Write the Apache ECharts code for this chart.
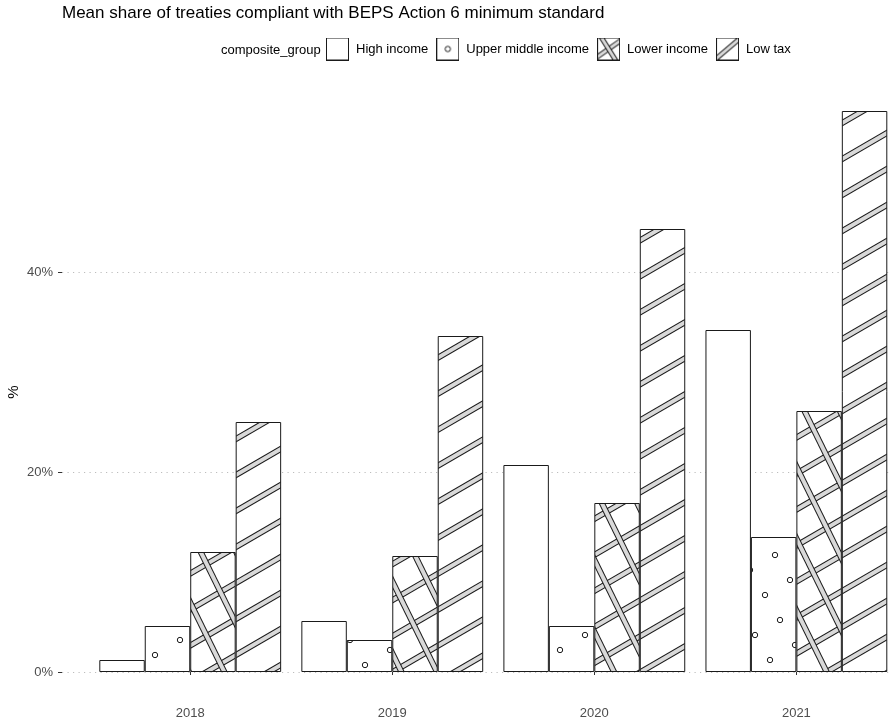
<!DOCTYPE html>
<html>
<head>
<meta charset="utf-8">
<script src="https://cdn.jsdelivr.net/npm/echarts@6/dist/echarts.min.js"></script>
<style>
html,body{margin:0;padding:0;background:#fff;}
#chart{width:890px;height:721px;}
</style>
</head>
<body>
<div id="chart"></div>
<script>
const years = ['2018', '2019', '2020', '2021'];
const groups = ['High income', 'Upper middle income', 'Lower income', 'Low tax'];
const highIncome = [1.2, 5.1, 20.7, 34.2];
const upperMiddle = [4.6, 3.2, 4.6, 13.5];
const lowerIncome = [12.0, 11.6, 16.9, 26.1];
const lowTax = [25.0, 33.6, 44.3, 56.1];
const yTicks = [0, 20, 40];

const FONT = 'Liberation Sans, Arial, Helvetica, sans-serif';
const INK = '#1a1a1a';
const STRIPE = '#d9d9d9';

function makeCanvas(w, h) {
  const c = document.createElement('canvas');
  c.width = w; c.height = h;
  const ctx = c.getContext('2d');
  ctx.fillStyle = '#ffffff';
  ctx.fillRect(0, 0, w, h);
  return [c, ctx];
}
// periodic family of bands y = slope * x + k * period
function bandFamily(ctx, W, H, slope, period, pass) {
  const span = Math.abs(slope) * W;
  const kMin = Math.floor((-span - period * 2) / period);
  const kMax = Math.ceil((H + span + period * 2) / period);
  ctx.lineCap = 'butt';
  ctx.strokeStyle = pass === 'ink' ? INK : STRIPE;
  ctx.lineWidth = pass === 'ink' ? 6 : 4;
  for (let k = kMin; k <= kMax; k++) {
    const c = k * period;
    ctx.beginPath();
    ctx.moveTo(-20, c + slope * -20);
    ctx.lineTo(W + 20, c + slope * (W + 20));
    ctx.stroke();
  }
}
function band(ctx, W, H, slope, period) {
  bandFamily(ctx, W, H, slope, period, 'ink');
  bandFamily(ctx, W, H, slope, period, 'fill');
}
function dot(ctx, x, y) {
  ctx.beginPath();
  ctx.arc(x, y, 2.7, 0, Math.PI * 2);
  ctx.fillStyle = '#ffffff';
  ctx.fill();
  ctx.lineWidth = 1;
  ctx.strokeStyle = INK;
  ctx.stroke();
}

// fills for the bars
const stripeTile = (() => {
  const [c, ctx] = makeCanvas(248, 144);
  band(ctx, 248, 144, -144 / 248, 36);
  return c;
})();
const crossTile = (() => {
  const [c, ctx] = makeCanvas(248, 144);
  band(ctx, 248, 144, -144 / 248, 36);
  band(ctx, 248, 144, 504 / 248, 72);
  return c;
})();
const dotTile = (() => {
  const T = 170;
  const [c, ctx] = makeCanvas(T, T);
  const seen = {};
  for (let i = -12; i <= 12; i++) {
    for (let j = -12; j <= 12; j++) {
      const px = ((i * 15 + j * 25) % T + T) % T;
      const py = ((i * 25 - j * 15) % T + T) % T;
      const key = px + ',' + py;
      if (seen[key]) continue;
      seen[key] = 1;
      for (const ox of [-T, 0, T]) for (const oy of [-T, 0, T]) dot(ctx, px + ox, py + oy);
    }
  }
  return c;
})();

const fills = [
  '#ffffff',
  { image: dotTile, repeat: 'repeat' },
  { image: crossTile, repeat: 'repeat' },
  { image: stripeTile, repeat: 'repeat' }
];

// legend keys
function keyIcon(kind) {
  const K = 23;
  const [c, ctx] = makeCanvas(K, K);
  ctx.save();
  ctx.beginPath(); ctx.rect(0, 0, K, K); ctx.clip();
  const line = (slope, cx, cy) => {
    for (const pass of ['ink', 'fill']) {
      ctx.strokeStyle = pass === 'ink' ? INK : STRIPE;
      ctx.lineWidth = pass === 'ink' ? 5 : 3;
      ctx.beginPath();
      ctx.moveTo(cx - 30, cy - 30 * slope);
      ctx.lineTo(cx + 30, cy + 30 * slope);
      ctx.stroke();
    }
  };
  if (kind === 1) dot(ctx, K / 2, K / 2);
  if (kind === 2) { line(-0.7, K / 2, K / 2); line(1.6, K / 2, K / 2); }
  if (kind === 3) { line(-0.85, K / 2, K / 2); }
  ctx.restore();
  ctx.strokeStyle = INK;
  ctx.lineWidth = 1;
  ctx.strokeRect(0.5, 0.5, K - 1, K - 1);
  return 'image://' + c.toDataURL();
}

const seriesValues = [highIncome, upperMiddle, lowerIncome, lowTax];

const chart = echarts.init(document.getElementById('chart'), null, { renderer: 'canvas' });
const option = {
  animation: false,
  backgroundColor: '#ffffff',
  title: [
    {
      text: 'Mean share of treaties compliant with BEPS Action 6 minimum standard',
      left: 62, top: 5, padding: 0,
      textStyle: { fontFamily: FONT, fontSize: 17, fontWeight: 'normal', color: '#000' }
    },
    {
      text: 'composite_group',
      left: 221, top: 43.5, padding: 0,
      textStyle: { fontFamily: FONT, fontSize: 13, fontWeight: 'normal', color: '#000' }
    }
  ],
  legend: {
    left: 326, top: 37.5,
    padding: 0,
    itemWidth: 23, itemHeight: 23,
    itemGap: 8,
    data: groups.map((g, i) => ({ name: g, icon: keyIcon(i) })),
    textStyle: { fontFamily: FONT, fontSize: 13, color: '#000', padding: [0, 0, 0, 2] }
  },
  grid: { left: 62, top: 84, width: 862.6, height: 616, outerBoundsMode: 'none', containLabel: false },
  xAxis: {
    type: 'value',
    min: 0.3654, max: 4.6346,
    axisLine: { show: false },
    splitLine: { show: false },
    axisTick: { show: true, customValues: [1, 2, 3, 4], length: 3, lineStyle: { color: '#333' } },
    axisLabel: {
      customValues: [1, 2, 3, 4],
      formatter: v => years[Math.round(v) - 1],
      margin: 7,
      fontFamily: FONT, fontSize: 13, color: '#4d4d4d'
    }
  },
  yAxis: {
    type: 'value',
    min: -2.8, max: 58.8,
    name: '%',
    nameLocation: 'middle',
    nameRotate: 90,
    nameGap: 41,
    nameMoveOverlap: false,
    nameTextStyle: { fontFamily: FONT, fontSize: 15, color: '#000' },
    axisLine: { show: false },
    axisTick: { show: true, customValues: yTicks, length: 4, lineStyle: { color: '#333' } },
    axisLabel: {
      customValues: yTicks,
      formatter: v => v + '%',
      margin: 9,
      fontFamily: FONT, fontSize: 13, color: '#4d4d4d'
    },
    splitLine: { show: true, lineStyle: { color: '#bdbdbd', width: 1, type: [1.2, 4.3] } }
  },
  series: groups.map((g, i) => ({
    name: g,
    type: 'bar',
    barGap: '0%',
    barCategoryGap: '10%',
    data: seriesValues[i].map((v, j) => [j + 1, v]),
    itemStyle: { color: fills[i], borderColor: INK, borderWidth: 1 },
    emphasis: { disabled: true }
  }))
};
chart.setOption(option);
</script>
</body>
</html>
